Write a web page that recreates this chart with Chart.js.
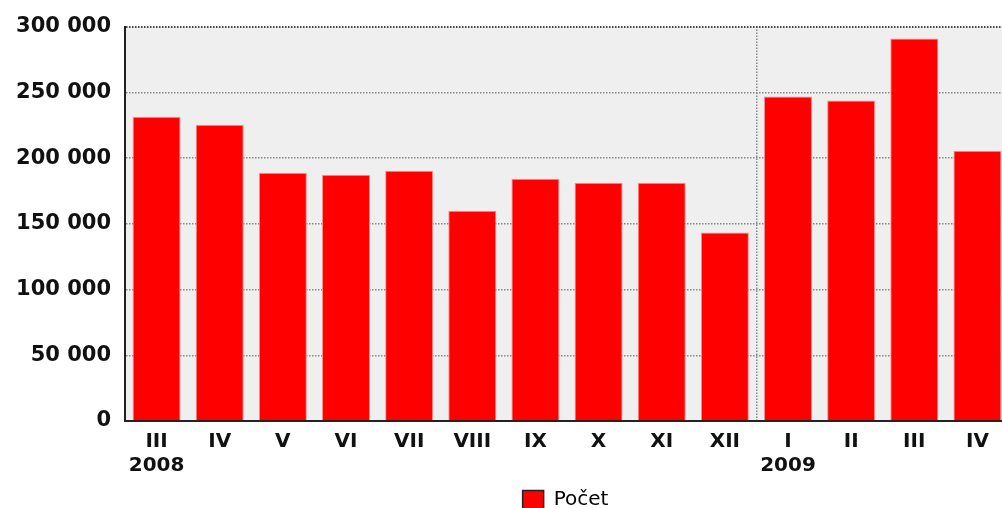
<!DOCTYPE html>
<html>
<head>
<meta charset="utf-8">
<script src="https://cdn.jsdelivr.net/npm/chart.js@4"></script>
<style>
  html, body { margin: 0; padding: 0; background: #ffffff; overflow: hidden; }
  #wrap { width: 1130px; height: 520px; }
</style>
</head>
<body>
<div id="wrap"><canvas id="myChart"></canvas></div>
<script>
// months (roman numerals) and the year shown under the first month of each year
const months = ["III", "IV", "V", "VI", "VII", "VIII", "IX", "X", "XI", "XII", "I", "II", "III", "IV"];
const years = ["2008", "", "", "", "", "", "", "", "", "", "2009", "", "", ""];
const pocet = [231400, 225300, 188900, 187300, 190400, 160000, 184300, 181300, 181300, 143300, 246800, 243800, 290900, 205600];
const yTicks = [0, 50000, 100000, 150000, 200000, 250000, 300000];

const labels = months.map((m, i) => years[i] ? [m, years[i]] : m);

// grey plot background
const plotBg = {
  id: 'plotBg',
  beforeDraw(chart) {
    const a = chart.chartArea;
    const c = chart.ctx;
    c.save();
    c.fillStyle = '#efefef';
    c.fillRect(a.left, a.top, a.right - a.left, a.bottom - a.top);
    c.restore();
  }
};

// legend is centred on the whole (wider) original image, not on the plot
const legendShift = {
  id: 'legendShift',
  afterLayout(chart) {
    chart.legend.left += 122;
  }
};

const fmt = v => String(v).replace(/\B(?=(\d{3})+(?!\d))/g, ' ');

const ctx = document.getElementById('myChart');

new Chart(ctx, {
  type: 'bar',
  data: {
    labels: labels,
    datasets: [{
      label: 'Počet',
      data: pocet,
      backgroundColor: '#ff0000',
      borderColor: '#ff8c8c',
      borderWidth: 1,
      barPercentage: 0.76,
      categoryPercentage: 1
    }]
  },
  options: {
    responsive: true,
    maintainAspectRatio: false,
    animation: false,
    layout: { padding: { top: 23, left: 0, right: 121, bottom: 0 } },
    plugins: {
      legend: {
        position: 'bottom',
        labels: {
          color: '#111',
          font: { family: 'DejaVu Sans', size: 20 },
          boxWidth: 21,
          boxHeight: 19,
          padding: 9,
          generateLabels: () => [{
            text: 'Počet',
            fillStyle: '#ff0000',
            strokeStyle: '#222',
            lineWidth: 1.5
          }]
        }
      },
      tooltip: { enabled: false }
    },
    scales: {
      x: {
        grid: {
          offset: true,
          drawTicks: false,
          color: c => c.index === 10 ? '#888' : 'rgba(0,0,0,0)',
          lineWidth: 1.5
        },
        border: { display: true, color: '#222', width: 2, dash: [1.5, 1.5] },
        ticks: {
          color: '#111',
          padding: 9,
          maxRotation: 0,
          autoSkip: false,
          font: { family: 'DejaVu Sans', size: 20, weight: 'bold' }
        },
        afterFit: s => { s.height = 60; }
      },
      y: {
        min: 0,
        max: 300000,
        afterBuildTicks: s => { s.ticks = yTicks.map(v => ({ value: v })); },
        grid: {
          drawTicks: false,
          color: c => c.tick && c.tick.value === 300000 ? '#444' : '#888',
          lineWidth: c => c.tick && c.tick.value === 300000 ? 2 : 1.5
        },
        border: { display: true, color: '#222', width: 2, dash: [1.5, 1.5] },
        ticks: {
          color: '#111',
          padding: 14,
          font: { family: 'DejaVu Sans', size: 21, weight: 'bold' },
          callback: v => fmt(v)
        },
        afterFit: s => { s.width = 125; }
      }
    }
  },
  plugins: [plotBg, legendShift]
});
</script>
</body>
</html>
